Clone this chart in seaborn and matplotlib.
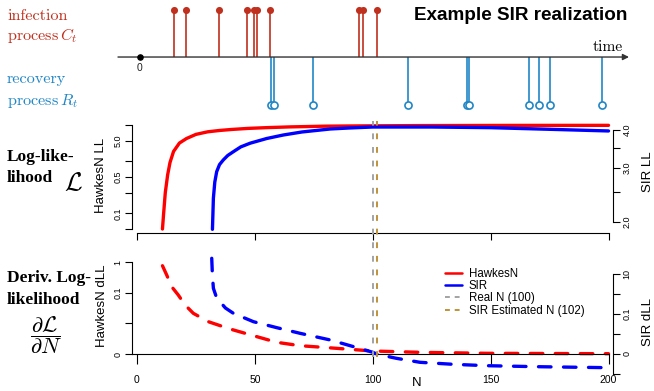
import matplotlib
matplotlib.use("Agg")
import matplotlib.pyplot as plt
from matplotlib.lines import Line2D
import numpy as np
import pandas as pd
import seaborn as sns

# ---------------- data ----------------
infection_times = [3.43, 4.6, 7.87, 10.67, 11.4, 11.67, 13.0, 21.93, 22.33, 23.67]
recovery_times = [13.1, 13.4, 17.33, 26.77, 32.7, 32.95, 38.9, 39.93, 41.0, 46.17]

hawkes_ll_N = [10.8, 11.3, 12.0, 13.0, 14.0, 15.5, 18, 21, 25, 30, 35, 40, 47, 55, 65, 80, 100,
               120, 160, 200]
hawkes_ll = [0.1, 0.2, 0.5, 1.1, 1.9, 3.1, 4.5, 5.5, 6.6, 7.4, 7.85, 8.2, 8.6, 8.9, 9.2, 9.5,
             9.65, 9.75, 9.82, 9.85]

sir_ll_N = [32.0, 32.4, 33.0, 33.8, 35, 36.6, 38.5, 41, 44, 48, 55, 62, 70, 82, 90, 100, 125,
            150, 175, 200]
sir_ll = [1.89, 2.39, 2.7, 2.92, 3.08, 3.19, 3.30, 3.40, 3.52, 3.62, 3.75, 3.85, 3.94, 4.03,
          4.06, 4.09, 4.09, 4.07, 4.02, 3.97]

hawkes_dll_N = [10.8, 12.6, 14.7, 17.5, 20.4, 23.9, 30.3, 39.5, 49.4, 59.3, 69.2, 81.2, 100, 120,
                148.5, 200]
hawkes_dll = [0.757, 0.377, 0.157, 0.084, 0.0396, 0.0212, 0.0113, 0.00815, 0.00597, 0.00381,
              0.00271, 0.00205, 0.00098, 0.00055, 0.00023, 0.0001]

sir_dll_N = [31.7, 32.0, 32.4, 33.5, 35.2, 37.5, 40.9, 49.4, 59.3, 69.2, 82, 91.9, 100, 102,
             110, 120, 134, 148.5, 170, 200]
sir_dll = [61, 8, 1.93, 0.8, 0.412, 0.2, 0.108, 0.0412, 0.0207, 0.0108, 0.007, 0.00365, 0.00085,
           -0.00015, -0.00215, -0.00415, -0.00515, -0.00585, -0.00635, -0.00685]

real_N = 100
est_N = 102

n_ticks = [0, 50, 100, 150, 200]
ll_left_ticks = [10, 5, 2, 1, 0.5, 0.2, 0.1]
ll_left_labels = ['', '5.0', '', '0.5', '', '0.1', '']
ll_right_ticks = [2.0, 2.5, 3.0, 3.5, 4.0]
ll_right_labels = ['2.0', '', '3.0', '', '4.0']
dll_left_ticks = [0, 0.01, 0.1, 1]
dll_left_labels = ['0', '', '0.1', '1']
dll_right_ticks = [-0.01, 0, 0.01, 0.1, 1, 10]
dll_right_labels = ['', '0', '', '0.1', '', '10']

legend_labels = ['HawkesN', 'SIR', 'Real N (100)', 'SIR Estimated N (102)']

# ---------------- style ----------------
sns.set_theme(style='ticks', rc={
    'axes.edgecolor': 'black', 'axes.linewidth': 0.8,
    'xtick.color': 'black', 'ytick.color': 'black',
    'xtick.major.width': 0.8, 'ytick.major.width': 0.8,
    'xtick.major.size': 5, 'ytick.major.size': 5,
    'axes.facecolor': 'none', 'text.color': 'black', 'axes.labelcolor': 'black',
})
plt.rcParams['font.family'] = ['Liberation Sans', 'DejaVu Sans']
plt.rcParams['mathtext.fontset'] = 'cm'

RED_TXT = '#c0301e'
BLUE_TXT = '#2086c6'
GRAY = '#a3a3a3'
GOLD = '#c0923a'

W, H = 654, 391
fig = plt.figure(figsize=(W / 100, H / 100), dpi=100)


def rect(l, t, r, b):
    return [l / W, 1 - b / H, (r - l) / W, (b - t) / H]


def fx(x):
    return x / W


def fy(y):
    return 1 - y / H


XL = (-2.12, 201.9)


def rot_labels(ax):
    for lab in ax.get_yticklabels():
        lab.set_rotation(90)
        lab.set_va('center')


# ---------------- top: event realization ----------------
ax0 = fig.add_axes(rect(0, 0, W, 115))
ax0.set_xlim(-14, 51.4)
ax0.set_ylim(-1.22, 1.2)
ax0.axis('off')
ax0.annotate('', xy=(48.9, 0), xytext=(-2.2, 0),
             arrowprops=dict(arrowstyle='-|>', color='#333333', lw=1.0, mutation_scale=9,
                             shrinkA=0, shrinkB=0))
ax0.vlines(infection_times, 0, 1, color=RED_TXT, lw=1.2)
sns.scatterplot(x=infection_times, y=[1] * len(infection_times), ax=ax0, color=RED_TXT,
                s=26, edgecolor=RED_TXT, linewidth=0, zorder=3)
ax0.vlines(recovery_times, -1, 0, color=BLUE_TXT, lw=1.2)
sns.scatterplot(x=recovery_times, y=[-1] * len(recovery_times), ax=ax0, facecolor='white',
                s=26, edgecolor=BLUE_TXT, linewidth=1.2, zorder=3)
ax0.scatter([0], [0], s=14, color='black', zorder=4)
ax0.text(0, -0.12, '0', ha='center', va='top', fontsize=7.5, color='#222222')

fig.text(fx(627), fy(15), 'Example SIR realization', ha='right', va='center',
         fontsize=13.6, fontweight='bold', color='black')
fig.text(fx(623), fy(51), 'time', ha='right', va='baseline', fontsize=11.1,
         family='cmr10', color='black')

fig.text(fx(7), fy(20), 'infection', ha='left', va='baseline', fontsize=11.7,
         family='cmr10', color=RED_TXT)
fig.text(fx(7), fy(40), r'process$\,C_t$', ha='left', va='baseline', fontsize=11.7,
         family='cmr10', color=RED_TXT)
fig.text(fx(7), fy(83), 'recovery', ha='left', va='baseline', fontsize=11.7,
         family='cmr10', color=BLUE_TXT)
fig.text(fx(7), fy(105), r'process$\,R_t$', ha='left', va='baseline', fontsize=11.7,
         family='cmr10', color=BLUE_TXT)

# ---------------- middle: log-likelihood ----------------
ax1 = fig.add_axes(rect(132, 121, 613, 233))
ax1.set_yscale('log')
df_h = pd.DataFrame({'N': hawkes_ll_N, 'LL': hawkes_ll})
sns.lineplot(data=df_h, x='N', y='LL', ax=ax1, color='#ff0000', lw=2.4, errorbar=None)
ax1.set_xlim(*XL)
ax1.set_ylim(0.0838, 11.94)
ax1.set_xlabel('')
ax1.set_ylabel('')
for s in ['top', 'right']:
    ax1.spines[s].set_visible(False)
ax1.spines['left'].set_bounds(0.1, 10)
ax1.spines['bottom'].set_bounds(0, 200)
ax1.set_xticks(n_ticks)
ax1.set_xticklabels([''] * len(n_ticks))
ax1.set_yticks(ll_left_ticks)
ax1.set_yticklabels(ll_left_labels)
ax1.yaxis.set_minor_locator(matplotlib.ticker.NullLocator())
ax1.tick_params(axis='y', labelsize=6.5, pad=2)
rot_labels(ax1)

ax1r = ax1.twinx()
ax1r.set_yscale('log')
df_s = pd.DataFrame({'N': sir_ll_N, 'LL': sir_ll})
sns.lineplot(data=df_s, x='N', y='LL', ax=ax1r, color='#0000ff', lw=2.4, errorbar=None)
ax1r.set_xlim(*XL)
ax1r.set_ylim(1.838, 4.28)
ax1r.set_xlabel('')
ax1r.set_ylabel('')
for s in ['top', 'left', 'bottom']:
    ax1r.spines[s].set_visible(False)
ax1r.spines['right'].set_bounds(2.0, 4.0)
ax1r.set_yticks(ll_right_ticks)
ax1r.set_yticklabels(ll_right_labels)
ax1r.yaxis.set_minor_locator(matplotlib.ticker.NullLocator())
ax1r.tick_params(axis='y', labelsize=6.5, pad=2)
rot_labels(ax1r)

fig.text(fx(100.5), fy(175), 'HawkesN LL', rotation=90, ha='center', va='center', fontsize=9.5)
fig.text(fx(648), fy(172), 'SIR LL', rotation=90, ha='center', va='center', fontsize=9.5)

serif_bold = dict(ha='left', va='center', fontsize=12.5, family='Liberation Serif',
                  fontweight='bold')
fig.text(fx(7), fy(157), 'Log-like-', **serif_bold)
fig.text(fx(7), fy(178), 'lihood', **serif_bold)
fig.text(fx(73), fy(183), r'$\mathcal{L}$', ha='center', va='center', fontsize=18.5)

# ---------------- bottom: derivative ----------------
ax2 = fig.add_axes(rect(132, 256, 613, 376))
ax2.set_yscale('symlog', linthresh=0.01, linscale=0.9)
dash = (0, (3.75, 3.75))
df_hd = pd.DataFrame({'N': hawkes_dll_N, 'dLL': hawkes_dll})
sns.lineplot(data=df_hd, x='N', y='dLL', ax=ax2, color='#ff0000', lw=2.4, errorbar=None,
             linestyle=dash, dash_capstyle='round')
ax2.set_xlim(*XL)
ax2.set_ylim(-0.00717, 1.57)
ax2.set_xlabel('')
ax2.set_ylabel('')
for s in ['top', 'right']:
    ax2.spines[s].set_visible(False)
ax2.spines['bottom'].set_position(('data', 0))
ax2.spines['bottom'].set_bounds(XL[0], 200)
ax2.spines['left'].set_bounds(0, 1)
ax2.set_xticks(n_ticks)
ax2.set_xticklabels([str(v) for v in n_ticks])
ax2.tick_params(axis='x', labelsize=7.5, length=7, pad=8)
ax2.set_yticks(dll_left_ticks)
ax2.set_yticklabels(dll_left_labels)
ax2.yaxis.set_minor_locator(matplotlib.ticker.NullLocator())
ax2.tick_params(axis='y', labelsize=6.5, pad=2)
rot_labels(ax2)

ax2r = ax2.twinx()
ax2r.set_yscale('symlog', linthresh=0.01, linscale=0.9)
df_sd = pd.DataFrame({'N': sir_dll_N, 'dLL': sir_dll})
sns.lineplot(data=df_sd, x='N', y='dLL', ax=ax2r, color='#0000ff', lw=2.4, errorbar=None,
             linestyle=dash, dash_capstyle='round')
ax2r.set_xlim(*XL)
ax2r.set_ylim(-0.01259, 79.4)
ax2r.set_xlabel('')
ax2r.set_ylabel('')
for s in ['top', 'left', 'bottom']:
    ax2r.spines[s].set_visible(False)
ax2r.spines['right'].set_bounds(-0.01, 10)
ax2r.set_yticks(dll_right_ticks)
ax2r.set_yticklabels(dll_right_labels)
ax2r.yaxis.set_minor_locator(matplotlib.ticker.NullLocator())
ax2r.tick_params(axis='y', labelsize=6.5, pad=2)
rot_labels(ax2r)

fig.text(fx(102), fy(306), 'HawkesN dLL', rotation=90, ha='center', va='center', fontsize=9.5)
fig.text(fx(648), fy(322), 'SIR dLL', rotation=90, ha='center', va='center', fontsize=9.5)
fig.text(fx(417), fy(383), 'N', ha='center', va='center', fontsize=9.5)

fig.text(fx(7), fy(278), 'Deriv. Log-', **serif_bold)
fig.text(fx(7), fy(300), 'likelihood', **serif_bold)
fig.text(fx(46), fy(335), r'$\dfrac{\partial\mathcal{L}}{\partial N}$', ha='center',
         va='center', fontsize=16)

# ---------------- vertical reference lines ----------------
axv = fig.add_axes(rect(132, 121, 613, 357))
axv.set_xlim(*XL)
axv.set_ylim(0, 1)
axv.axis('off')
vdash = (0, (3.0, 4.0))
axv.axvline(real_N, color=GRAY, lw=1.4, linestyle=vdash)
axv.axvline(est_N, color=GOLD, lw=1.4, linestyle=vdash)

handles = [Line2D([], [], color='#ff0000', lw=1.8),
           Line2D([], [], color='#0000ff', lw=1.8),
           Line2D([], [], color=GRAY, lw=1.4, linestyle=(0, (2.5, 2.5))),
           Line2D([], [], color=GOLD, lw=1.4, linestyle=(0, (2.5, 2.5)))]
fig.legend(handles, legend_labels, loc='upper left', bbox_to_anchor=(fx(445), fy(268)),
           frameon=False, fontsize=8.3, handlelength=1.45, handletextpad=0.6,
           labelspacing=0.02, borderpad=0, borderaxespad=0)

fig.savefig('out.png', dpi=100)
